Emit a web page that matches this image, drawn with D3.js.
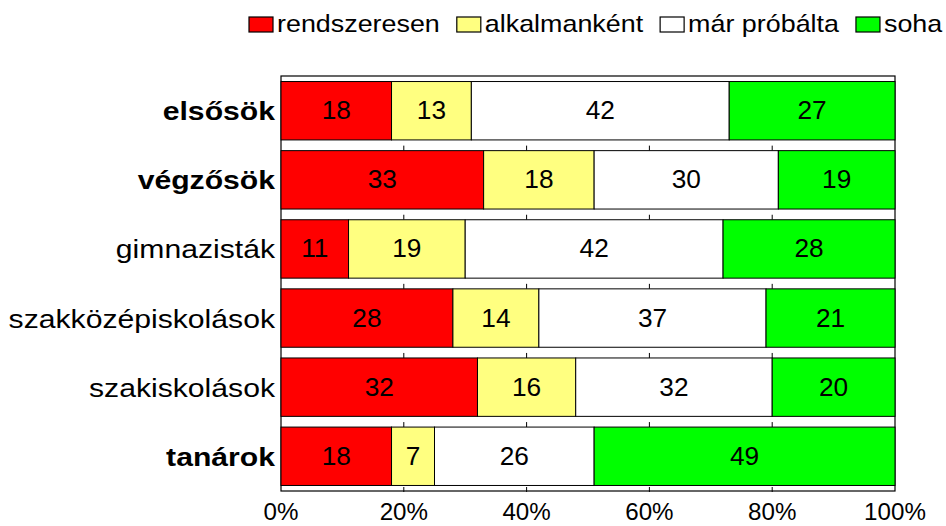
<!DOCTYPE html>
<html>
<head>
<meta charset="utf-8">
<script src="https://cdn.jsdelivr.net/npm/d3@7"></script>
<style>
  body { margin: 0; background: #fff; }
  text { font-family: "Liberation Sans", Arial, sans-serif; fill: #000; }
</style>
</head>
<body>
<div id="chart"></div>
<script>
// data (percent)
var categories = ["elsősök", "végzősök", "gimnazisták", "szakközépiskolások", "szakiskolások", "tanárok"]
var boldCategories = ["elsősök", "végzősök", "tanárok"]
var seriesNames = ["rendszeresen", "alkalmanként", "már próbálta", "soha"]
var seriesColors = ["#ff0000", "#ffff80", "#ffffff", "#00ff00"]
var rendszeresen = [18, 33, 11, 28, 32, 18]
var alkalmankent = [13, 18, 19, 14, 16, 7]
var marProbalta = [42, 30, 42, 37, 32, 26]
var soha = [27, 19, 28, 21, 20, 49]
var tickValues = [0, 20, 40, 60, 80, 100]

var width = 946,
    height = 526,
    margin = {top: 76, right: 51, bottom: 35, left: 281}

var svg = d3.select("#chart")
  .append("svg")
    .attr("width", width)
    .attr("height", height)

// build rows for the stack
var rows = categories.map(function(c, i) {
  return {cat: c, "rendszeresen": rendszeresen[i], "alkalmanként": alkalmankent[i],
          "már próbálta": marProbalta[i], "soha": soha[i]}
})
var stacked = d3.stack().keys(seriesNames)(rows)

var x = d3.scaleLinear()
  .domain([0, 100])
  .range([margin.left, width - margin.right])

var y = d3.scaleBand()
  .domain(categories)
  .range([margin.top, height - margin.bottom])
  .paddingInner(0.155)
  .paddingOuter(0.08)

var color = d3.scaleOrdinal().domain(seriesNames).range(seriesColors)

// plot area frame
svg.append("rect")
  .attr("x", x(0))
  .attr("y", margin.top)
  .attr("width", x(100) - x(0))
  .attr("height", height - margin.bottom - margin.top)
  .attr("fill", "#fff")
  .attr("stroke", "#000")
  .attr("stroke-width", 1.2)

// small tick marks in the gaps above the bars
var inner = tickValues.filter(function(t) { return t > 0 && t < 100 })
categories.slice(1).forEach(function(c) {
  svg.selectAll(null)
    .data(inner)
    .enter()
    .append("line")
    .attr("x1", function(d) { return x(d) })
    .attr("x2", function(d) { return x(d) })
    .attr("y1", y(c) - 5)
    .attr("y2", y(c))
    .attr("stroke", "#000")
})
// bottom axis ticks
svg.selectAll(null)
  .data(inner)
  .enter()
  .append("line")
  .attr("x1", function(d) { return x(d) })
  .attr("x2", function(d) { return x(d) })
  .attr("y1", height - margin.bottom - 4)
  .attr("y2", height - margin.bottom + 1)
  .attr("stroke", "#000")

// bars
var groups = svg.selectAll("g.series")
  .data(stacked)
  .enter()
  .append("g")
    .attr("class", "series")
    .attr("fill", function(d) { return color(d.key) })

groups.selectAll("rect")
  .data(function(d) { return d })
  .enter()
  .append("rect")
    .attr("x", function(d) { return x(d[0]) })
    .attr("y", function(d) { return y(d.data.cat) })
    .attr("width", function(d) { return x(d[1]) - x(d[0]) })
    .attr("height", y.bandwidth())
    .attr("stroke", "#000")
    .attr("stroke-width", 1)

// value labels
groups.selectAll("text")
  .data(function(d) { return d })
  .enter()
  .append("text")
    .attr("transform", function(d) {
      return "translate(" + x((d[0] + d[1]) / 2) + "," + (y(d.data.cat) + y.bandwidth() / 2 + 8.5) + ") scale(1.05,1)"
    })
    .attr("text-anchor", "middle")
    .style("font-size", "25px")
    .text(function(d) { return d[1] - d[0] })

// category labels
svg.selectAll("text.cat")
  .data(categories)
  .enter()
  .append("text")
    .attr("class", "cat")
    .attr("transform", function(d) {
      return "translate(275," + (y(d) + y.bandwidth() / 2 + 9.5) + ") scale(1.16,1)"
    })
    .attr("text-anchor", "end")
    .style("font-size", "26px")
    .style("font-weight", function(d) { return boldCategories.indexOf(d) >= 0 ? "bold" : "normal" })
    .text(function(d) { return d })

// x axis labels
svg.selectAll("text.tick")
  .data(tickValues)
  .enter()
  .append("text")
    .attr("class", "tick")
    .attr("transform", function(d) { return "translate(" + x(d) + ",520) scale(1.05,1)" })
    .attr("text-anchor", "middle")
    .style("font-size", "23px")
    .text(function(d) { return d + "%" })

// legend
var lx = 249
seriesNames.forEach(function(name, i) {
  svg.append("rect")
    .attr("x", lx)
    .attr("y", 17)
    .attr("width", 24)
    .attr("height", 15)
    .attr("fill", seriesColors[i])
    .attr("stroke", "#000")
    .attr("stroke-width", 1.2)
  var t = svg.append("text")
    .attr("transform", "translate(" + (lx + 28) + ",32) scale(1.12,1)")
    .style("font-size", "24px")
    .text(name)
  lx = lx + 28 + t.node().getComputedTextLength() * 1.12 + 17
})
</script>
</body>
</html>
